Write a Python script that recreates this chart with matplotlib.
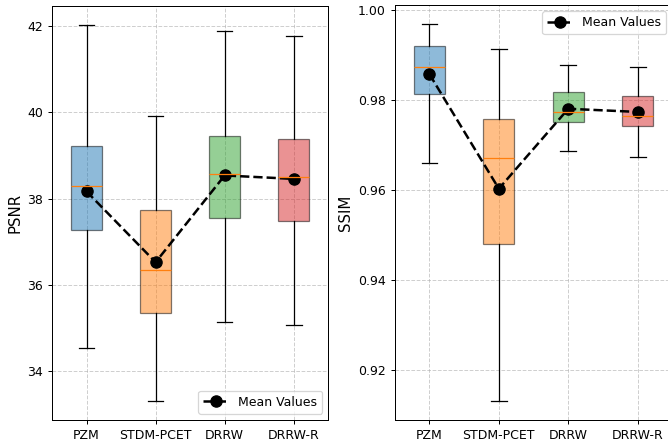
import matplotlib.pyplot as plt

methods = ['PZM', 'STDM-PCET', 'DRRW', 'DRRW-R']
colors = ['#1f77b4', '#ff7f0e', '#2ca02c', '#d62728']

# PSNR box stats
psnr_low = [34.54, 33.31, 35.15, 35.08]
psnr_q1 = [37.28, 35.35, 37.55, 37.49]
psnr_med = [38.30, 36.35, 38.57, 38.51]
psnr_q3 = [39.22, 37.73, 39.45, 39.38]
psnr_high = [42.03, 39.91, 41.89, 41.78]
psnr_mean = [38.17, 36.53, 38.54, 38.46]

# SSIM box stats
ssim_low = [0.9661, 0.9130, 0.9687, 0.9674]
ssim_q1 = [0.9813, 0.9480, 0.9751, 0.9743]
ssim_med = [0.9875, 0.9672, 0.9774, 0.9764]
ssim_q3 = [0.9921, 0.9759, 0.9818, 0.9810]
ssim_high = [0.9970, 0.9913, 0.9879, 0.9875]
ssim_mean = [0.9858, 0.9603, 0.9781, 0.9774]


def make_stats(low, q1, med, q3, high, mean):
    return [dict(whislo=a, q1=b, med=c, q3=d, whishi=e, mean=m, fliers=[])
            for a, b, c, d, e, m in zip(low, q1, med, q3, high, mean)]


def draw(ax, stats, means, ylabel, legend_loc):
    pos = list(range(1, len(methods) + 1))
    bp = ax.bxp(stats, positions=pos, widths=0.45, patch_artist=True,
                showfliers=False)
    for patch, c in zip(bp['boxes'], colors):
        patch.set_facecolor(c)
        patch.set_alpha(0.5)
    ax.plot(pos, means, 'k--o', linewidth=2, markersize=9, label='Mean Values')
    ax.set_xticks(pos)
    ax.set_xticklabels(methods)
    ax.set_ylabel(ylabel, fontsize=12)
    ax.grid(True, linestyle='--', alpha=0.6)
    ax.legend(loc=legend_loc)


DPI = 90
fig = plt.figure(figsize=(668 / DPI, 441 / DPI), dpi=DPI)
ax1 = fig.add_axes([0.0778, 0.0476, 0.4137, 0.9388])
ax2 = fig.add_axes([0.5909, 0.0476, 0.4157, 0.9410])

draw(ax1, make_stats(psnr_low, psnr_q1, psnr_med, psnr_q3, psnr_high, psnr_mean),
     psnr_mean, 'PSNR', 'lower right')
draw(ax2, make_stats(ssim_low, ssim_q1, ssim_med, ssim_q3, ssim_high, ssim_mean),
     ssim_mean, 'SSIM', 'upper right')

fig.savefig('out.png', dpi=DPI, facecolor='white')
